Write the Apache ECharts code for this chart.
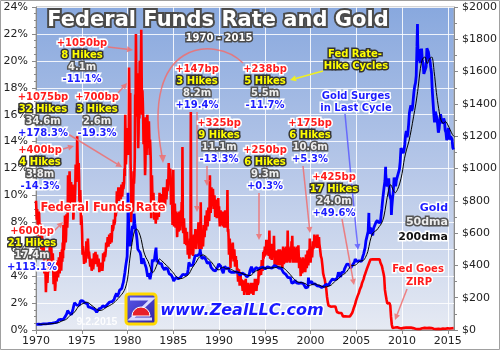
<!DOCTYPE html>
<html>
<head>
<meta charset="utf-8">
<script src="https://cdn.jsdelivr.net/npm/echarts@6/dist/echarts.min.js"></script>
<style>
html, body { margin: 0; padding: 0; background: #ffffff; }
#chart { width: 500px; height: 350px; }
</style>
</head>
<body>
<div id="chart"></div>
<script>
// Effective federal funds rate, monthly, % (Jan 1970 onward)
const ffr1970s = [
  8.98, 8.98, 7.76, 8.10, 7.95, 7.61, 7.21, 6.61, 6.29, 6.20, 5.60, 4.90,
  4.14, 3.72, 3.71, 4.16, 4.63, 4.91, 5.31, 5.57, 5.55, 5.20, 4.91, 4.14,
  3.50, 3.29, 3.83, 4.17, 4.27, 4.46, 4.55, 4.80, 4.87, 5.04, 5.06, 5.33,
  5.94, 6.58, 7.09, 7.12, 7.84, 8.49, 10.40, 10.50, 10.78, 10.01, 10.03, 9.95,
  9.65, 8.97, 9.35, 10.51, 11.31, 11.93, 12.92, 12.01, 11.34, 10.06, 9.45, 8.53,
  7.13, 6.24, 5.54, 5.49, 5.22, 5.55, 6.10, 6.14, 6.24, 5.82, 5.22, 5.20,
  4.87, 4.77, 4.84, 4.82, 5.29, 5.48, 5.31, 5.29, 5.25, 5.02, 4.95, 4.65,
  4.61, 4.68, 4.69, 4.73, 5.35, 5.39, 5.42, 5.90, 6.14, 6.47, 6.51, 6.56,
  6.70, 6.78, 6.79, 6.89, 7.36, 7.60, 7.81, 8.04, 8.45, 8.96, 9.76, 10.03,
  10.07, 10.06, 10.09, 10.01, 10.24, 10.29, 10.47, 10.94, 11.43, 13.77, 13.18, 13.78
];
const ffr1980s = [
  13.82, 14.13, 17.19, 17.61, 10.98, 9.47, 9.03, 9.61, 10.87, 12.81, 15.85, 18.90,
  19.08, 15.93, 14.70, 15.72, 18.52, 19.10, 19.04, 17.82, 15.87, 15.08, 13.31, 12.37,
  13.22, 14.78, 14.68, 14.94, 14.45, 14.15, 12.59, 10.12, 10.31, 9.71, 9.20, 8.95,
  8.68, 8.51, 8.77, 8.80, 8.63, 8.98, 9.37, 9.56, 9.45, 9.48, 9.34, 9.47,
  9.56, 9.59, 9.91, 10.29, 10.32, 11.06, 11.23, 11.64, 11.30, 9.99, 9.43, 8.38,
  8.35, 8.50, 8.58, 8.27, 7.97, 7.53, 7.88, 7.90, 7.92, 7.99, 8.05, 8.27,
  8.14, 7.86, 7.48, 6.99, 6.85, 6.92, 6.56, 6.17, 5.89, 5.85, 6.04, 6.91,
  6.43, 6.10, 6.13, 6.37, 6.85, 6.73, 6.58, 6.73, 7.22, 7.29, 6.69, 6.77,
  6.83, 6.58, 6.58, 6.87, 7.09, 7.51, 7.75, 8.01, 8.19, 8.30, 8.35, 8.76,
  9.12, 9.36, 9.85, 9.84, 9.81, 9.53, 9.24, 8.99, 9.02, 8.84, 8.55, 8.45
];
const ffr1990s = [
  8.23, 8.24, 8.28, 8.26, 8.18, 8.29, 8.15, 8.13, 8.20, 8.11, 7.81, 7.31,
  6.91, 6.25, 6.12, 5.91, 5.78, 5.90, 5.82, 5.66, 5.45, 5.21, 4.81, 4.43,
  4.03, 4.06, 3.98, 3.73, 3.82, 3.76, 3.25, 3.30, 3.22, 3.10, 3.09, 2.92,
  3.02, 3.03, 3.07, 2.96, 3.00, 3.04, 3.06, 3.03, 3.09, 2.99, 3.02, 2.96,
  3.05, 3.25, 3.34, 3.56, 4.01, 4.25, 4.26, 4.47, 4.73, 4.76, 5.29, 5.45,
  5.53, 5.92, 5.98, 6.05, 6.01, 6.00, 5.85, 5.74, 5.80, 5.76, 5.80, 5.60,
  5.56, 5.22, 5.31, 5.22, 5.24, 5.27, 5.40, 5.22, 5.30, 5.24, 5.31, 5.29,
  5.25, 5.19, 5.39, 5.51, 5.50, 5.56, 5.52, 5.54, 5.54, 5.50, 5.52, 5.50,
  5.56, 5.51, 5.49, 5.45, 5.49, 5.56, 5.54, 5.55, 5.51, 5.07, 4.83, 4.68,
  4.63, 4.76, 4.81, 4.74, 4.74, 4.76, 4.99, 5.07, 5.22, 5.20, 5.42, 5.30
];
const ffr2000s = [
  5.45, 5.73, 5.85, 6.02, 6.27, 6.53, 6.54, 6.50, 6.52, 6.51, 6.51, 6.40,
  5.98, 5.49, 5.31, 4.80, 4.21, 3.97, 3.77, 3.65, 3.07, 2.49, 2.09, 1.82,
  1.73, 1.74, 1.73, 1.75, 1.75, 1.75, 1.73, 1.74, 1.75, 1.75, 1.34, 1.24,
  1.24, 1.26, 1.25, 1.26, 1.26, 1.22, 1.01, 1.03, 1.01, 1.01, 1.00, 0.98,
  1.00, 1.01, 1.00, 1.00, 1.00, 1.03, 1.26, 1.43, 1.61, 1.76, 1.93, 2.16,
  2.28, 2.50, 2.63, 2.79, 3.00, 3.04, 3.26, 3.50, 3.62, 3.78, 4.00, 4.16,
  4.29, 4.49, 4.59, 4.79, 4.94, 4.99, 5.24, 5.25, 5.25, 5.25, 5.25, 5.24,
  5.25, 5.26, 5.26, 5.25, 5.25, 5.25, 5.26, 5.02, 4.94, 4.76, 4.49, 4.24,
  3.94, 2.98, 2.61, 2.28, 1.98, 2.00, 2.01, 2.00, 1.81, 0.97, 0.39, 0.16,
  0.15, 0.22, 0.18, 0.15, 0.18, 0.21, 0.16, 0.16, 0.15, 0.12, 0.12, 0.12
];
const ffr2010s = [
  0.11, 0.13, 0.16, 0.20, 0.20, 0.18, 0.18, 0.19, 0.19, 0.19, 0.19, 0.18,
  0.17, 0.16, 0.14, 0.10, 0.09, 0.09, 0.07, 0.10, 0.08, 0.07, 0.08, 0.07,
  0.08, 0.10, 0.13, 0.14, 0.16, 0.16, 0.16, 0.13, 0.14, 0.16, 0.16, 0.16,
  0.14, 0.15, 0.14, 0.15, 0.11, 0.09, 0.09, 0.08, 0.08, 0.09, 0.08, 0.09,
  0.07, 0.07, 0.08, 0.09, 0.09, 0.10, 0.09, 0.09, 0.09, 0.09, 0.09, 0.12,
  0.11, 0.11, 0.11, 0.12, 0.12, 0.13, 0.13, 0.14
];
// Daily swings of the funds rate around each month's turn, % (Jan 1970 - Dec 2000)
const ffrSwings1970s = [
  9.6, 8.2, 8.6, 7.0, 8.8, 6.9, 7.9, 6.0, 7.0, 5.5, 6.4, 4.2,
  4.9, 2.8, 4.4, 3.5, 5.4, 4.3, 6.2, 5.0, 6.3, 4.6, 5.7, 3.4,
  4.5, 2.9, 4.8, 3.6, 5.2, 3.9, 5.4, 4.2, 5.8, 4.4, 6.0, 6.5,
  7.8, 5.9, 8.5, 6.5, 8.6, 7.6, 11.5, 9.6, 11.8, 9.2, 11.0, 9.0,
  10.8, 8.2, 10.3, 9.6, 12.3, 11.0, 14.4, 11.2, 12.4, 9.2, 10.4, 7.8,
  8.0, 5.6, 6.2, 4.9, 5.8, 5.0, 6.6, 5.7, 6.8, 5.3, 5.8, 4.7,
  5.3, 4.4, 5.3, 4.5, 5.7, 5.0, 5.8, 4.9, 5.6, 4.7, 5.3, 4.3,
  4.9, 4.4, 5.0, 4.4, 5.7, 5.1, 5.8, 5.6, 6.5, 6.1, 6.9, 6.2,
  7.1, 6.4, 7.2, 6.5, 7.8, 7.3, 8.2, 7.7, 8.9, 8.5, 10.3, 9.6,
  10.6, 9.6, 10.6, 9.6, 10.8, 9.9, 11.0, 10.5, 12.0, 16.0, 12.3, 14.8
];
const ffrSwings1980s = [
  15.0, 13.0, 19.5, 15.5, 12.5, 8.0, 10.0, 8.8, 11.8, 11.5, 17.5, 22.0,
  17.0, 18.0, 13.5, 17.5, 20.0, 17.5, 22.3, 16.0, 17.0, 13.8, 14.5, 11.5,
  15.8, 13.0, 16.0, 13.5, 15.5, 13.0, 13.5, 8.3, 11.5, 8.8, 10.2, 8.2,
  9.6, 7.9, 9.5, 8.2, 9.4, 8.4, 10.2, 9.0, 10.1, 8.9, 10.0, 10.6,
  10.3, 9.0, 10.6, 9.7, 11.2, 10.4, 12.4, 11.0, 12.0, 9.3, 10.2, 7.8,
  11.9, 7.7, 9.4, 7.6, 8.8, 6.9, 8.7, 7.3, 8.8, 7.4, 8.9, 9.5,
  13.6, 7.2, 8.3, 6.4, 7.6, 6.3, 7.3, 5.6, 6.6, 5.3, 6.8, 16.2,
  5.6, 6.8, 5.5, 7.1, 6.2, 7.5, 6.0, 7.4, 6.6, 8.0, 6.0, 7.8,
  9.5, 6.0, 7.3, 6.2, 7.8, 6.9, 8.5, 7.4, 8.9, 7.7, 9.1, 8.1,
  11.5, 8.7, 10.6, 9.2, 10.5, 9.0, 10.0, 8.4, 9.7, 8.3, 9.2, 9.8
];
const ffrSwings1990s = [
  9.2, 7.7, 8.9, 7.8, 8.8, 7.7, 8.8, 7.6, 8.9, 7.6, 8.4, 10.4,
  7.5, 5.6, 6.8, 4.6, 6.4, 5.3, 6.5, 5.1, 6.0, 4.7, 5.5, 5.2,
  4.6, 3.6, 4.5, 3.3, 4.3, 3.3, 3.7, 2.9, 3.7, 2.6, 3.5, 3.8,
  3.5, 2.6, 3.5, 2.6, 3.4, 2.7, 3.5, 2.7, 3.5, 2.6, 3.4, 3.8,
  3.4, 2.9, 3.8, 3.2, 4.5, 3.9, 4.7, 4.1, 5.2, 4.4, 5.8, 5.9,
  6.2, 5.4, 6.7, 5.6, 6.7, 5.5, 7.4, 5.3, 6.4, 5.2, 6.4, 6.4,
  7.0, 4.8, 5.9, 4.8, 5.9, 4.8, 6.0, 4.8, 6.0, 4.8, 5.9, 4.6,
  6.2, 4.9, 6.1, 5.0, 6.2, 5.0, 7.4, 5.1, 6.1, 5.0, 6.2, 6.6,
  7.0, 5.0, 6.2, 5.0, 6.1, 5.0, 6.2, 5.0, 6.3, 4.6, 5.4, 4.0,
  5.3, 4.2, 5.4, 4.3, 5.3, 4.3, 5.6, 4.6, 5.9, 4.8, 6.0, 6.8
];
const ffrSwings2000 = [5.0, 6.2, 5.4, 6.6, 5.9, 7.1, 6.2, 7.0, 6.1, 7.1, 6.1, 6.9];

// Gold, monthly average, US$ per ounce (Jan 1970 onward)
const gold1970s = [
  34.9, 35.0, 35.1, 35.6, 35.9, 35.4, 35.3, 35.4, 36.2, 37.5, 37.4, 37.4,
  37.9, 38.7, 38.9, 39.0, 40.5, 40.1, 41.0, 42.7, 42.0, 42.5, 42.9, 43.5,
  45.7, 48.3, 48.3, 49.0, 54.6, 62.1, 65.7, 67.0, 65.5, 64.9, 63.0, 63.9,
  65.1, 74.2, 84.4, 90.5, 102.0, 120.1, 120.2, 106.8, 103.0, 100.1, 94.8, 106.5,
  129.2, 150.2, 168.4, 172.2, 163.3, 154.1, 143.0, 154.6, 151.8, 158.8, 181.7, 183.9,
  176.3, 179.6, 178.2, 170.0, 167.0, 164.2, 165.2, 162.0, 143.6, 142.8, 142.9, 139.3,
  131.6, 131.8, 132.5, 128.4, 127.0, 125.5, 117.8, 109.3, 114.0, 116.3, 130.6, 133.9,
  132.3, 136.4, 148.4, 149.4, 146.9, 140.8, 143.4, 144.9, 149.6, 158.4, 162.1, 160.5,
  173.2, 178.2, 183.7, 175.2, 176.3, 183.1, 188.9, 206.0, 212.4, 227.5, 206.1, 207.8,
  227.3, 245.7, 242.1, 239.2, 257.6, 279.1, 294.7, 300.8, 355.1, 391.7, 392.5, 455.1
];
const gold1980s = [
  675.3, 665.3, 553.6, 517.4, 513.8, 600.7, 644.3, 627.2, 673.6, 661.2, 623.5, 596.7,
  557.4, 500.0, 499.8, 495.8, 479.7, 460.8, 409.3, 411.7, 443.1, 437.8, 412.7, 410.1,
  384.4, 374.2, 330.0, 350.4, 334.1, 314.9, 338.6, 364.2, 436.2, 422.9, 414.9, 444.3,
  481.2, 491.9, 419.5, 432.8, 437.4, 412.6, 423.0, 416.2, 411.6, 393.8, 381.6, 388.5,
  370.7, 386.1, 394.4, 381.7, 377.8, 377.6, 348.7, 347.7, 341.1, 340.2, 341.2, 320.2,
  302.8, 299.1, 304.0, 324.9, 316.5, 316.6, 317.4, 329.6, 323.4, 325.9, 325.3, 322.4,
  345.4, 338.9, 345.7, 340.4, 342.6, 342.6, 348.5, 376.6, 418.8, 423.2, 398.1, 391.3,
  408.3, 401.1, 408.9, 438.4, 460.2, 449.6, 450.4, 460.5, 460.4, 465.0, 470.6, 486.3,
  477.0, 442.1, 443.6, 451.6, 451.0, 451.6, 437.6, 431.4, 413.8, 406.3, 419.8, 418.7,
  404.0, 387.8, 390.1, 384.2, 371.0, 367.6, 375.0, 365.4, 362.6, 366.9, 393.8, 409.3
];
const gold1990s = [
  410.1, 416.8, 393.1, 374.3, 369.1, 352.3, 362.5, 395.0, 389.3, 381.0, 381.7, 378.2,
  383.6, 363.8, 363.3, 358.4, 356.8, 366.7, 367.7, 356.5, 348.8, 358.7, 359.7, 361.1,
  354.5, 353.9, 344.3, 338.6, 337.2, 340.8, 352.7, 342.9, 345.4, 344.4, 335.0, 334.7,
  329.0, 329.4, 330.1, 342.2, 367.2, 371.9, 392.0, 378.9, 355.3, 364.2, 373.4, 383.3,
  387.0, 382.0, 383.9, 377.3, 381.4, 385.6, 385.5, 380.4, 391.6, 389.8, 384.4, 379.3,
  378.6, 376.6, 382.1, 391.0, 385.2, 387.6, 386.2, 383.8, 383.1, 383.1, 385.3, 387.4,
  400.0, 404.8, 396.2, 392.8, 391.9, 385.3, 383.5, 387.5, 383.1, 381.1, 377.9, 369.2,
  355.0, 346.6, 351.8, 344.5, 343.8, 340.8, 324.0, 324.0, 322.8, 324.9, 306.0, 289.0,
  289.1, 297.5, 295.9, 308.3, 299.1, 292.3, 292.9, 284.1, 289.0, 296.1, 294.1, 291.6,
  287.1, 287.2, 286.0, 282.4, 276.4, 261.3, 256.1, 256.7, 264.7, 310.7, 293.2, 283.1
];
const gold2000s = [
  284.6, 300.4, 286.4, 280.0, 275.3, 285.7, 281.6, 274.5, 273.7, 270.0, 266.0, 271.5,
  265.5, 261.9, 263.0, 260.5, 272.4, 270.2, 267.5, 272.4, 283.4, 283.1, 276.2, 275.9,
  281.7, 295.5, 294.0, 302.7, 314.5, 321.2, 313.3, 310.3, 319.2, 316.6, 319.2, 333.4,
  356.9, 359.0, 340.6, 328.2, 355.7, 356.4, 351.0, 359.8, 378.9, 378.9, 389.9, 407.6,
  413.8, 404.9, 406.7, 403.0, 383.4, 392.0, 398.1, 400.5, 405.3, 420.5, 439.4, 442.1,
  424.0, 423.4, 434.2, 428.9, 421.9, 430.7, 424.5, 437.9, 456.0, 469.9, 476.7, 509.8,
  549.9, 555.0, 557.1, 610.6, 676.5, 596.2, 633.7, 632.6, 598.2, 585.8, 627.8, 629.8,
  631.2, 664.8, 654.9, 679.4, 666.9, 655.5, 665.3, 665.4, 712.7, 754.6, 806.3, 803.2,
  889.6, 922.3, 968.4, 909.7, 888.7, 889.5, 939.8, 839.0, 829.9, 806.6, 760.9, 816.1,
  858.7, 943.2, 924.3, 890.2, 928.6, 945.7, 934.2, 949.4, 996.6, 1043.2, 1127.0, 1134.7
];
const gold2010s = [
  1117.9, 1095.4, 1113.3, 1148.7, 1205.4, 1232.9, 1193.0, 1215.8, 1270.9, 1342.0, 1369.9, 1390.6,
  1356.4, 1372.7, 1424.0, 1473.8, 1510.4, 1528.7, 1572.8, 1756.0, 1771.9, 1665.2, 1738.9, 1652.2,
  1656.1, 1742.6, 1673.8, 1650.1, 1585.5, 1596.7, 1594.3, 1630.3, 1744.8, 1746.6, 1721.6, 1684.8,
  1671.9, 1627.6, 1593.1, 1487.9, 1414.0, 1343.4, 1285.5, 1351.7, 1348.6, 1316.6, 1275.8, 1221.5,
  1244.3, 1299.6, 1336.1, 1298.5, 1288.7, 1279.1, 1310.6, 1295.1, 1236.6, 1222.5, 1175.3, 1200.6,
  1250.8, 1227.1, 1178.6, 1198.9, 1198.6, 1181.5, 1128.3, 1117.9
];
// Single-day gold extremes: [year, $]
const goldSpikes = [
  [1980.05, 850], [1980.72, 720], [1983.12, 510], [1987.95, 500], [1999.77, 325],
  [2006.37, 725], [2008.2, 1011], [2008.83, 712], [2011.68, 1895], [2015.67, 1135]
];
// Gold 200-day moving average at each quarter end (Q1 1970 onward)
const gold200dma = [
  35.2, 35.3, 35.4, 35.8, 36.6, 38.0, 39.5, 41.0, 43.0, 46.5, 53.5, 59.5,
  64.5, 76, 92, 102, 113, 135, 152, 160, 167, 172, 168, 156,
  145, 134, 124, 121, 124, 133, 143, 150, 158, 168, 182, 196,
  213, 230, 258, 315, 440, 540, 610, 625, 605, 560, 490, 450,
  425, 385, 355, 375, 410, 440, 428, 415, 400, 388, 370, 355,
  335, 322, 318, 320, 328, 336, 350, 378, 400, 420, 445, 460,
  465, 458, 445, 430, 415, 395, 378, 372, 385, 388, 378, 380,
  378, 370, 362, 358, 356, 350, 344, 342, 337, 338, 355, 365,
  370, 378, 384, 384, 382, 383, 385, 385, 388, 392, 390, 385,
  375, 360, 345, 328, 312, 300, 295, 294, 290, 285, 273, 278,
  283, 286, 280, 277, 270, 266, 267, 272, 278, 292, 306, 314,
  330, 342, 350, 365, 385, 400, 400, 405, 420, 428, 430, 450,
  485, 550, 595, 610, 620, 640, 660, 700, 780, 860, 900, 870,
  850, 870, 910, 970, 1060, 1120, 1170, 1240, 1320, 1400, 1500, 1620,
  1680, 1690, 1650, 1680, 1690, 1600, 1470, 1370, 1300, 1280, 1290, 1270,
  1240, 1210, 1195
];

const yearLabels = [1970, 1975, 1980, 1985, 1990, 1995, 2000, 2005, 2010, 2015];

// Monthly averages sit mid-month on a decimal-year axis, the daily swings at each month's turn.
function monthly(values) {
  return values.map((v, i) => [1970 + (i + 0.5) / 12, v]);
}
function monthTurns(values) {
  return values.map((v, i) => [1970 + i / 12, v]);
}
function byDate(a, b) { return a[0] - b[0]; }
const ffrData = monthly([].concat(ffr1970s, ffr1980s, ffr1990s, ffr2000s, ffr2010s))
  .concat(monthTurns([].concat(ffrSwings1970s, ffrSwings1980s, ffrSwings1990s, ffrSwings2000)))
  .sort(byDate);
const goldData = monthly([].concat(gold1970s, gold1980s, gold1990s, gold2000s, gold2010s))
  .concat(goldSpikes).sort(byDate);
const dmaData = gold200dma.map((v, i) => [1970 + (i + 1) / 4, v]);

const FONT = '"DejaVu Sans", Verdana, sans-serif';

function label(x, y, text, fill, stroke, size, align, style) {
  return {
    type: 'text', x: x, y: y, z: 100,
    style: {
      text: text, fill: fill, stroke: stroke, lineWidth: 3,
      font: (style || 'bold') + ' ' + (size || 10) + 'px ' + FONT,
      align: align || 'center', verticalAlign: 'middle',
      textAlign: align || 'center', textVerticalAlign: 'middle'
    }
  };
}
// A rate-hike cycle callout: size, count, duration, gold change
function cycle(x, y, bp, hikes, months, change) {
  return [
    label(x, y, bp, '#ff1c1c', '#ffffff'),
    label(x, y + 12, hikes, '#ffff00', '#333333'),
    label(x, y + 24, months, '#eeeeee', '#555555'),
    label(x, y + 36, change, '#1c1cff', '#ffffff')
  ];
}
function arrow(x1, y1, x2, y2, color) {
  const a = Math.atan2(y2 - y1, x2 - x1), L = 6, W = 3;
  const bx = x2 - L * Math.cos(a), by = y2 - L * Math.sin(a);
  return [
    { type: 'line', z: 99, shape: { x1: x1, y1: y1, x2: bx, y2: by },
      style: { stroke: color, lineWidth: 1.5 } },
    { type: 'polygon', z: 99,
      shape: { points: [[x2, y2], [bx - W * Math.sin(a), by + W * Math.cos(a)], [bx + W * Math.sin(a), by - W * Math.cos(a)]] },
      style: { fill: color } }
  ];
}
const ARROW = 'rgba(240,110,110,0.85)';

const elements = [].concat(
  // title
  [{
    type: 'text', x: 218, y: 21, z: 100,
    style: {
      text: 'Federal Funds Rate and Gold', fill: '#ffffff', stroke: '#4a4a4a', lineWidth: 4,
      font: 'bold 21px ' + FONT, align: 'center', verticalAlign: 'middle',
      textAlign: 'center', textVerticalAlign: 'middle',
      shadowColor: 'rgba(0,0,0,0.45)', shadowBlur: 3, shadowOffsetX: 2, shadowOffsetY: 2
    }
  }],
  [label(219, 38, '1970 - 2015', '#ffffff', '#4a4a4a', 10)],
  cycle(82, 43, '+1050bp', '8 Hikes', '4.1m', '-11.1%'),
  cycle(43, 97, '+1075bp', '32 Hikes', '34.6m', '+178.3%'),
  cycle(97, 97, '+700bp', '3 Hikes', '2.6m', '-19.3%'),
  cycle(40, 150, '+400bp', '4 Hikes', '3.8m', '-14.3%'),
  cycle(32, 231, '+600bp', '21 Hikes', '17.4m', '+113.1%'),
  cycle(197, 69, '+147bp', '3 Hikes', '8.2m', '+19.4%'),
  cycle(265, 69, '+238bp', '5 Hikes', '5.5m', '-11.7%'),
  cycle(219, 123, '+325bp', '9 Hikes', '11.1m', '-13.3%'),
  cycle(265, 150, '+250bp', '6 Hikes', '9.3m', '+0.3%'),
  cycle(310, 123, '+175bp', '6 Hikes', '10.6m', '+5.3%'),
  cycle(334, 177, '+425bp', '17 Hikes', '24.0m', '+49.6%'),
  [
    label(355, 54, 'Fed Rate-', '#ffff00', '#333333'),
    label(356, 66, 'Hike Cycles', '#ffff00', '#333333'),
    label(356, 96, 'Gold Surges', '#1c1cff', '#ffffff'),
    label(356, 108, 'in Last Cycle', '#1c1cff', '#ffffff'),
    label(448, 208, 'Gold', '#1c1cff', '#ffffff', 11, 'right'),
    label(448, 222, '50dma', '#eeeeee', '#555555', 11, 'right'),
    label(448, 237, '200dma', '#111111', '#ffffff', 11, 'right'),
    label(418, 269, 'Fed Goes', '#ff1c1c', '#ffffff'),
    label(419, 282, 'ZIRP', '#ff1c1c', '#ffffff'),
    label(103, 208, 'Federal Funds Rate', '#ff1c1c', '#ffffff', 11.5)
  ],
  arrow(108, 47, 133, 50, ARROW),
  arrow(118, 93, 127, 83, ARROW),
  arrow(68, 134, 122, 167, ARROW),
  arrow(63, 149, 74, 146, ARROW),
  arrow(54, 231, 63, 222, ARROW),
  arrow(197, 112, 197, 212, ARROW),
  arrow(207, 166, 207, 186, ARROW),
  arrow(259, 193, 259, 240, ARROW),
  arrow(303, 166, 310, 233, ARROW),
  arrow(342, 219, 354, 285, ARROW),
  arrow(345, 114, 358, 250, 'rgba(90,90,255,0.85)'),
  arrow(323, 71, 290, 80, '#f0f020'),
  arrow(407, 289, 395, 320, ARROW),
  [
    { type: 'bezierCurve', z: 99,
      shape: { x1: 243, y1: 63, cpx1: 215, cpy1: 35, cpx2: 140, cpy2: 40, x2: 162, y2: 156 },
      style: { stroke: ARROW, lineWidth: 1.5, fill: null } },
    { type: 'polygon', z: 99, shape: { points: [[163, 163], [159, 155], [166, 155]] }, style: { fill: ARROW } }
  ],
  // site mark
  [
    { type: 'rect', z: 100, shape: { x: 126, y: 294, width: 30, height: 30, r: 3 },
      style: {
        fill: { type: 'linear', x: 0, y: 0, x2: 1, y2: 1, colorStops: [
          { offset: 0, color: '#5a5af0' }, { offset: 1, color: '#3020a0' }] },
        stroke: '#ffd800', lineWidth: 3
      } },
    { type: 'polyline', z: 101, shape: { points: [[130, 299], [152, 299], [131, 319], [152, 319]] },
      style: { stroke: '#d8d8ff', lineWidth: 3, fill: null } },
    { type: 'sector', z: 102, shape: { cx: 141, cy: 316, r0: 0, r: 9, startAngle: Math.PI, endAngle: 2 * Math.PI },
      style: { fill: '#e8202a', stroke: '#ffffff', lineWidth: 1 } },
    label(242, 311, 'www.ZealLLC.com', '#1a1aff', '#ffffff', 16, 'center', 'italic bold'),
    { type: 'text', x: 97, y: 322, z: 100,
      style: { text: '9.2.2015', fill: 'rgba(255,255,255,0.9)', font: 'bold 10.5px "Liberation Sans", Arial, sans-serif',
        align: 'center', verticalAlign: 'middle', textAlign: 'center', textVerticalAlign: 'middle' } },
    { type: 'rect', z: 0, shape: { x: 0.5, y: 0.5, width: 499, height: 349 },
      style: { fill: null, stroke: '#a0a0a0', lineWidth: 1 } }
  ]
);

const chart = echarts.init(document.getElementById('chart'), null, { renderer: 'canvas' });
chart.setOption({
  animation: false,
  backgroundColor: '#ffffff',
  grid: {
    left: 36, right: 46, top: 7, bottom: 20, show: true,
    borderColor: '#a8a8a8', borderWidth: 1,
    backgroundColor: { type: 'linear', x: 0, y: 0, x2: 0, y2: 1, colorStops: [
      { offset: 0, color: '#88a8de' }, { offset: 0.5, color: '#b6c7e8' }, { offset: 1, color: '#e6eaf3' }] }
  },
  xAxis: {
    type: 'value', min: 1970, max: 2015.67, interval: 5,
    axisLine: { lineStyle: { color: '#8a8a8a' } },
    axisTick: { length: 4, lineStyle: { color: '#8a8a8a' } },
    axisLabel: {
      color: '#222', fontSize: 11, fontFamily: FONT, margin: 6, showMaxLabel: false,
      formatter: v => (yearLabels.indexOf(v) >= 0 ? String(v) : '')
    },
    splitLine: { show: true, lineStyle: { color: 'rgba(255,255,255,0.85)', width: 1 } }
  },
  yAxis: [
    {
      type: 'value', min: 0, max: 24, interval: 2, position: 'left',
      axisLine: { show: true, lineStyle: { color: '#8a8a8a' } },
      axisTick: { show: true, length: 4, lineStyle: { color: '#8a8a8a' } },
      minorTick: { show: true, splitNumber: 4, length: 2, lineStyle: { color: '#8a8a8a' } },
      axisLabel: { color: '#222', fontSize: 11, fontFamily: FONT, margin: 8, formatter: '{value}%' },
      splitLine: { show: true, lineStyle: { color: 'rgba(255,255,255,0.85)', width: 1 } }
    },
    {
      type: 'value', min: 0, max: 2000, interval: 200, position: 'right',
      axisLine: { show: true, lineStyle: { color: '#8a8a8a' } },
      axisTick: { show: true, length: 4, lineStyle: { color: '#8a8a8a' } },
      minorTick: { show: true, splitNumber: 2, length: 3, lineStyle: { color: '#8a8a8a' } },
      axisLabel: { color: '#222', fontSize: 11, fontFamily: FONT, margin: 8, formatter: v => '$' + v },
      splitLine: { show: false }
    }
  ],
  series: [
    { name: 'Federal Funds Rate', type: 'line', yAxisIndex: 0, data: ffrData, showSymbol: false,
      lineStyle: { color: '#ff0000', width: 2.6 }, z: 2 },
    { name: 'Gold', type: 'line', yAxisIndex: 1, data: goldData, showSymbol: false,
      lineStyle: { color: '#0000ff', width: 2.8 }, z: 3 },
    { name: '200dma', type: 'line', yAxisIndex: 1, data: dmaData, showSymbol: false, smooth: 0.3,
      lineStyle: { color: '#000000', width: 1 }, z: 4 }
  ],
  graphic: { elements: elements }
});
</script>
</body>
</html>
